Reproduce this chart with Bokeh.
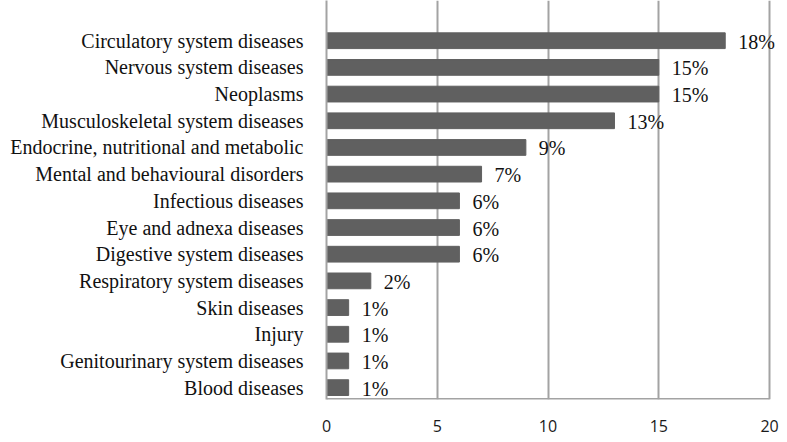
from bokeh.plotting import figure
from bokeh.models import ColumnDataSource, LabelSet, FixedTicker, Range1d
from bokeh.embed import file_html
from bokeh.resources import INLINE

categories = [
    "Circulatory system diseases",
    "Nervous system diseases",
    "Neoplasms",
    "Musculoskeletal system diseases",
    "Endocrine, nutritional and metabolic",
    "Mental and behavioural disorders",
    "Infectious diseases",
    "Eye and adnexa diseases",
    "Digestive system diseases",
    "Respiratory system diseases",
    "Skin diseases",
    "Injury",
    "Genitourinary system diseases",
    "Blood diseases",
]
values = [18, 15, 15, 13, 9, 7, 6, 6, 6, 2, 1, 1, 1, 1]
x_ticks = [0, 5, 10, 15, 20]

n = len(categories)
ypos = [n - i for i in range(n)]
labels = [f"{v}%" for v in values]

src = ColumnDataSource(dict(y=ypos, v=values, lab=labels))

Y0, Y1 = 0.555, 15.507
p = figure(width=779, height=434, output_backend="svg", toolbar_location=None,
           x_range=Range1d(0, 20.45), y_range=Range1d(Y0, Y1),
           min_border_left=326, min_border_right=0, min_border_top=0, min_border_bottom=34)

p.hbar(y="y", right="v", left=0, height=0.59, source=src, color="#606060")

# bottom axis line only up to the last tick
p.segment(x0=[x_ticks[0]], x1=[x_ticks[-1]], y0=[Y0], y1=[Y0],
          line_color="#a3a3a3", line_width=3)

ls = LabelSet(x="v", y="y", text="lab", source=src, x_offset=13, y_offset=-1,
              text_font="Liberation Serif", text_font_size="20px",
              text_baseline="middle", text_color="#111111")
p.add_layout(ls)

p.outline_line_color = None
p.ygrid.grid_line_color = None
p.xgrid.grid_line_color = "#a3a3a3"
p.xgrid.grid_line_width = 2
p.xaxis.ticker = FixedTicker(ticks=x_ticks)
p.yaxis.ticker = FixedTicker(ticks=ypos)
p.yaxis.major_label_overrides = {y: c for y, c in zip(ypos, categories)}

for ax in (p.xaxis[0], p.yaxis[0]):
    ax.major_tick_line_color = None
    ax.minor_tick_line_color = None
    ax.axis_line_color = None
p.yaxis.axis_line_color = "#a3a3a3"
p.yaxis.axis_line_width = 2

p.yaxis.major_label_text_font = "Liberation Serif"
p.yaxis.major_label_text_font_size = "20px"
p.yaxis.major_label_text_color = "#111111"
p.yaxis.major_label_standoff = 17

p.xaxis.major_label_text_font = "Open Sans"
p.xaxis.major_label_text_font_size = "16px"
p.xaxis.major_label_text_color = "#1a1a1a"
p.xaxis.major_label_standoff = 14
p.xaxis.major_label_text_baseline = "middle"

open("out.html", "w").write(file_html(p, INLINE))
